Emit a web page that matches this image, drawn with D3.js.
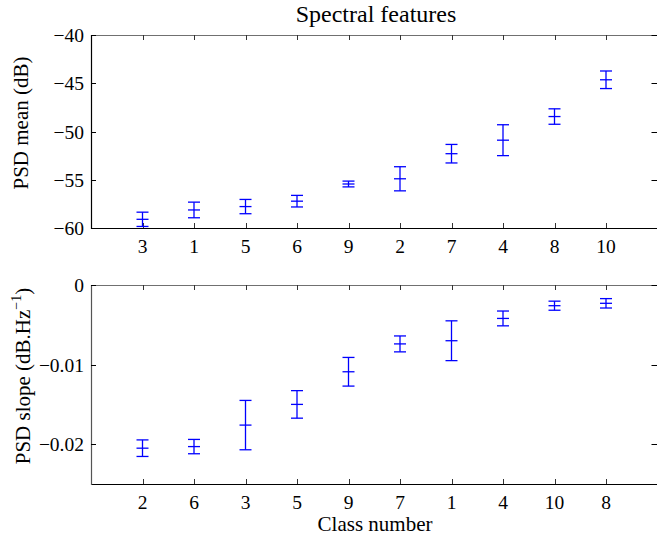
<!DOCTYPE html>
<html>
<head>
<meta charset="utf-8">
<script src="https://cdn.jsdelivr.net/npm/d3@7"></script>
<style>
  html, body { margin: 0; padding: 0; background: #fff; }
  svg { display: block; }
  text { font-family: "Liberation Serif", "Times New Roman", serif; fill: #000; }
</style>
</head>
<body>
<svg id="chart" width="657" height="537"></svg>
<script>
// ---- data ----
const topClasses = ["3", "1", "5", "6", "9", "2", "7", "4", "8", "10"];
const topMeans   = [-59.1, -58.13, -57.78, -57.22, -55.44, -54.9, -52.3, -50.9, -48.45, -44.64];
const topErrors  = [0.74, 0.81, 0.74, 0.6, 0.3, 1.25, 0.96, 1.6, 0.8, 0.91];
const topTicks   = [-60, -55, -50, -45, -40];

const botClasses = ["2", "6", "3", "5", "9", "7", "1", "4", "10", "8"];
const botMeans   = [-0.0205, -0.0203, -0.0176, -0.0150, -0.0109, -0.0074, -0.0070, -0.0042, -0.0026, -0.0023];
const botErrors  = [0.00104, 0.0009, 0.0031, 0.00173, 0.0018, 0.001, 0.0025, 0.00093, 0.00057, 0.00059];
const botTicks   = [-0.02, -0.01, 0];

const svg = d3.select("#chart");
const xLeft = 91, xRight = 657.5;
const x = d3.scaleLinear().domain([0, 11]).range([xLeft, xRight]);
const positions = d3.range(1, 11);
const fmtMinus = d => (d < 0 ? "\u2212" : "") + String(Math.abs(d));

function panel(cfg) {
  const y = d3.scaleLinear().domain(cfg.yDomain).range([cfg.bottom, cfg.top]);
  const g = svg.append("g");
  const tickLen = 5;

  // box
  g.append("line").attr("x1", xLeft).attr("x2", xRight).attr("y1", cfg.top + 0.5).attr("y2", cfg.top + 0.5)
    .attr("stroke", "#707070").attr("stroke-width", 1.2);
  g.append("line").attr("x1", xLeft).attr("x2", xRight).attr("y1", cfg.bottom + 0.5).attr("y2", cfg.bottom + 0.5)
    .attr("stroke", "#000").attr("stroke-width", 1.2);
  g.append("line").attr("x1", xLeft + 0.5).attr("x2", xLeft + 0.5).attr("y1", cfg.top).attr("y2", cfg.bottom + 1)
    .attr("stroke", cfg.leftColor).attr("stroke-width", 1.2);
  g.append("line").attr("x1", xRight).attr("x2", xRight).attr("y1", cfg.top).attr("y2", cfg.bottom + 1)
    .attr("stroke", "#000").attr("stroke-width", 1);

  // x ticks (top & bottom, inward)
  positions.forEach(p => {
    const px = Math.round(x(p)) + 0.5;
    g.append("line").attr("x1", px).attr("x2", px).attr("y1", cfg.bottom).attr("y2", cfg.bottom - tickLen)
      .attr("stroke", "#333").attr("stroke-width", 1);
    g.append("line").attr("x1", px).attr("x2", px).attr("y1", cfg.top).attr("y2", cfg.top + tickLen)
      .attr("stroke", "#333").attr("stroke-width", 1);
  });
  // x tick labels
  g.selectAll(".xl").data(cfg.classes).enter().append("text")
    .attr("x", (d, i) => x(positions[i]))
    .attr("y", cfg.bottom + 24.5)
    .attr("text-anchor", "middle")
    .attr("font-size", 19.5)
    .text(d => d);

  // y ticks (left & right, inward)
  cfg.ticks.forEach(t => {
    const py = Math.round(y(t)) + 0.5;
    g.append("line").attr("x1", xLeft).attr("x2", xLeft + tickLen).attr("y1", py).attr("y2", py)
      .attr("stroke", "#000").attr("stroke-width", 1);
    g.append("line").attr("x1", xRight - 6).attr("x2", xRight).attr("y1", py).attr("y2", py)
      .attr("stroke", "#000").attr("stroke-width", 1);
    g.append("text").attr("x", 84).attr("y", py + 6.5)
      .attr("text-anchor", "end").attr("font-size", 19.5)
      .text(fmtMinus(t));
  });

  // error bars
  const capHalf = 6;
  const bars = g.selectAll(".eb").data(cfg.means).enter().append("g")
    .attr("stroke", "#0000ff").attr("stroke-width", 1.3).attr("fill", "none");
  bars.append("line")
    .attr("x1", (d, i) => x(positions[i])).attr("x2", (d, i) => x(positions[i]))
    .attr("y1", (d, i) => y(d + cfg.errors[i])).attr("y2", (d, i) => y(d - cfg.errors[i]));
  bars.append("line")
    .attr("x1", (d, i) => x(positions[i]) - capHalf).attr("x2", (d, i) => x(positions[i]) + capHalf)
    .attr("y1", (d, i) => y(d + cfg.errors[i])).attr("y2", (d, i) => y(d + cfg.errors[i]));
  bars.append("line")
    .attr("x1", (d, i) => x(positions[i]) - capHalf).attr("x2", (d, i) => x(positions[i]) + capHalf)
    .attr("y1", (d, i) => y(d - cfg.errors[i])).attr("y2", (d, i) => y(d - cfg.errors[i]));
  bars.append("line")
    .attr("x1", (d, i) => x(positions[i]) - capHalf).attr("x2", (d, i) => x(positions[i]) + capHalf)
    .attr("y1", d => y(d)).attr("y2", d => y(d));
  return y;
}

panel({
  classes: topClasses, means: topMeans, errors: topErrors, ticks: topTicks,
  yDomain: [-60, -40], top: 35, bottom: 228, leftColor: "#000"
});
panel({
  classes: botClasses, means: botMeans, errors: botErrors, ticks: botTicks,
  yDomain: [-0.025, 0], top: 285, bottom: 484, leftColor: "#555"
});

// title
svg.append("text").attr("x", 376).attr("y", 22).attr("text-anchor", "middle")
  .attr("font-size", 24).text("Spectral features");

// x label
svg.append("text").attr("x", 375).attr("y", 531).attr("text-anchor", "middle")
  .attr("font-size", 21).text("Class number");

// y labels
svg.append("text").attr("transform", "translate(28,123) rotate(-90)")
  .attr("text-anchor", "middle").attr("font-size", 21).text("PSD mean (dB)");

const yl2 = svg.append("text").attr("transform", "translate(30,376) rotate(-90)")
  .attr("text-anchor", "middle").attr("font-size", 21);
yl2.append("tspan").text("PSD slope (dB.Hz");
yl2.append("tspan").attr("dy", -9).attr("font-size", 14).text("\u22121");
yl2.append("tspan").attr("dy", 9).text(")");
</script>
</body>
</html>
